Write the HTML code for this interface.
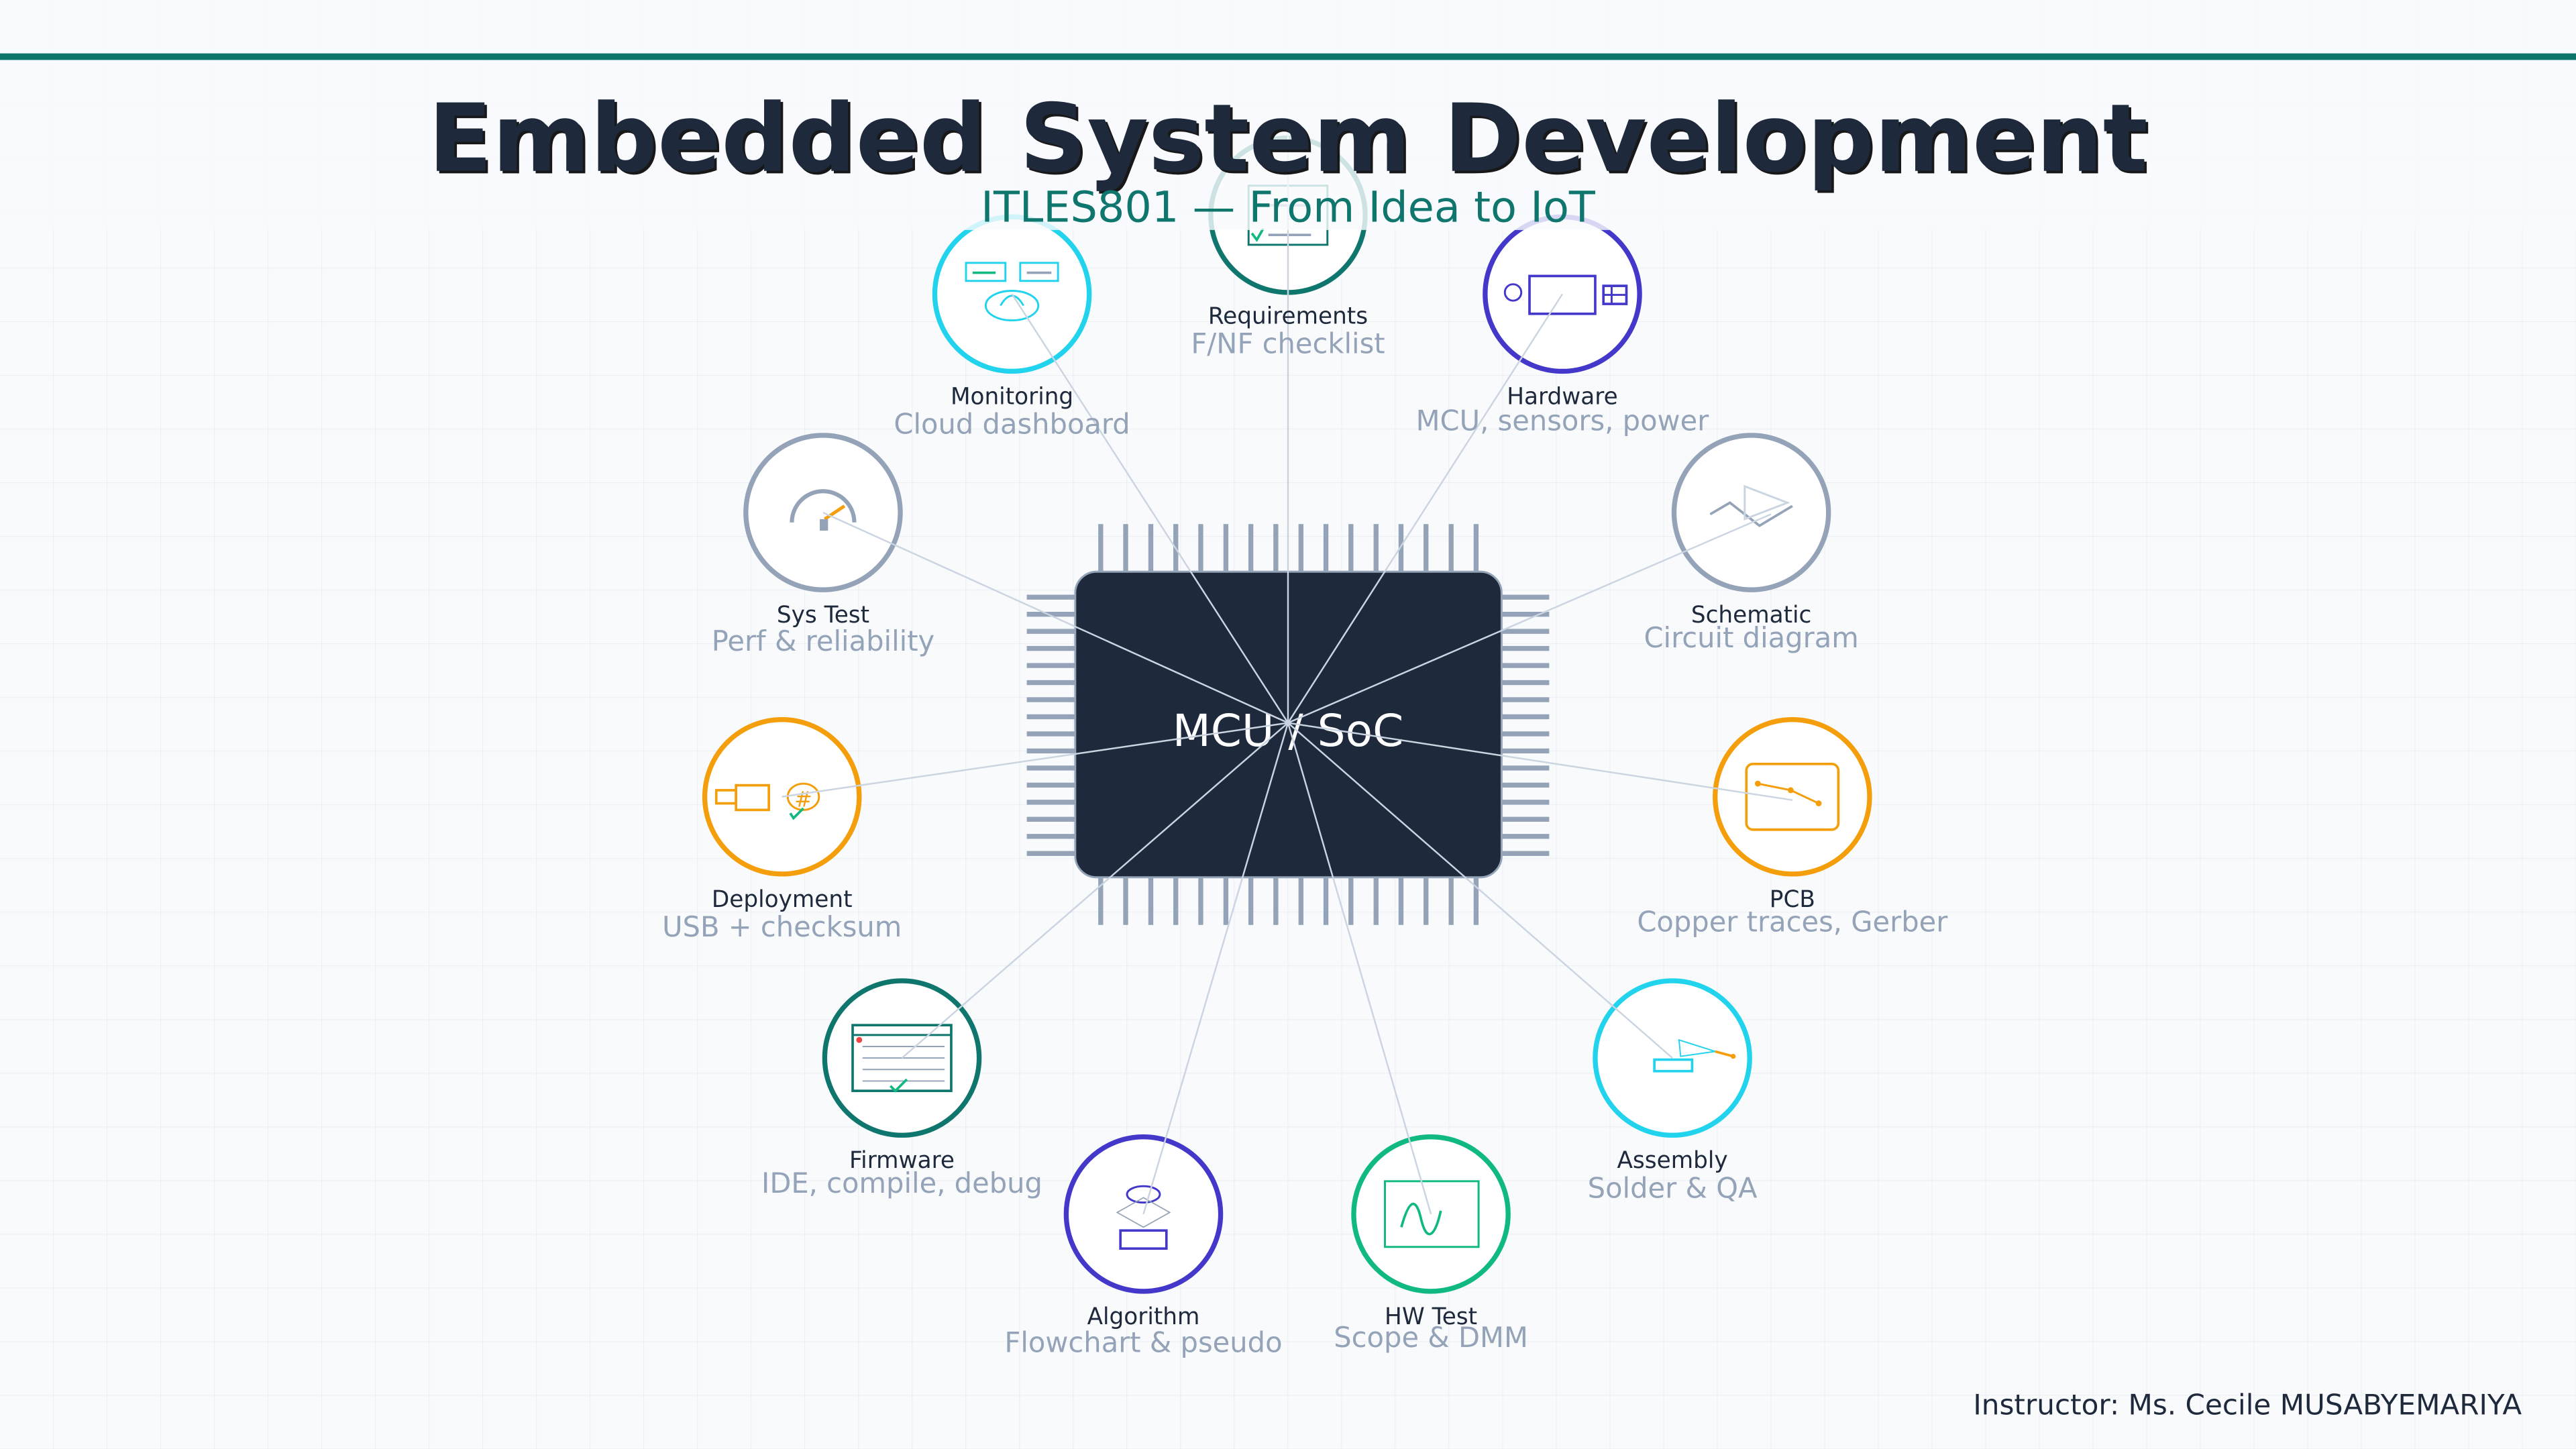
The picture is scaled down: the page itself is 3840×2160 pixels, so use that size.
<!DOCTYPE html>
<html><head><meta charset="utf-8"><style>
html,body{margin:0;padding:0;background:#f8fafc;}
svg{display:block;}
text{font-family:"DejaVu Sans","Liberation Sans",sans-serif;}
</style></head><body>
<svg width="3840" height="2160" viewBox="0 0 1568 882" xmlns="http://www.w3.org/2000/svg">
<defs>
<pattern id="g" width="32.67" height="32.67" patternUnits="userSpaceOnUse">
<path d="M32.67 0V32.67M0 32.67H32.67" fill="none" stroke="#e2e8f0" stroke-width="0.5"/>
</pattern>
</defs>
<rect width="1568" height="882" fill="#f8fafc"/>
<rect width="1568" height="882" fill="url(#g)"/>

<!-- chip pins -->
<g fill="#94a3b8">
<g id="tp">
<rect x="668.5" y="319" width="3" height="29"/><rect x="683.7" y="319" width="3" height="29"/><rect x="699" y="319" width="3" height="29"/><rect x="714.2" y="319" width="3" height="29"/>
<rect x="729.4" y="319" width="3" height="29"/><rect x="744.7" y="319" width="3" height="29"/><rect x="759.9" y="319" width="3" height="29"/><rect x="775.1" y="319" width="3" height="29"/>
<rect x="790.4" y="319" width="3" height="29"/><rect x="805.6" y="319" width="3" height="29"/><rect x="820.8" y="319" width="3" height="29"/><rect x="836.1" y="319" width="3" height="29"/>
<rect x="851.3" y="319" width="3" height="29"/><rect x="866.5" y="319" width="3" height="29"/><rect x="881.8" y="319" width="3" height="29"/><rect x="897" y="319" width="3" height="29"/>
</g>
<use href="#tp" y="215"/>
<g id="lp">
<rect x="625" y="362" width="29" height="3"/><rect x="625" y="372.4" width="29" height="3"/><rect x="625" y="382.8" width="29" height="3"/><rect x="625" y="393.2" width="29" height="3"/>
<rect x="625" y="403.6" width="29" height="3"/><rect x="625" y="414" width="29" height="3"/><rect x="625" y="424.4" width="29" height="3"/><rect x="625" y="434.8" width="29" height="3"/>
<rect x="625" y="445.2" width="29" height="3"/><rect x="625" y="455.6" width="29" height="3"/><rect x="625" y="466" width="29" height="3"/><rect x="625" y="476.4" width="29" height="3"/>
<rect x="625" y="486.8" width="29" height="3"/><rect x="625" y="497.2" width="29" height="3"/><rect x="625" y="507.6" width="29" height="3"/><rect x="625" y="518" width="29" height="3"/>
</g>
<use href="#lp" x="289"/>
</g>
<rect x="654.5" y="348" width="259.5" height="186" rx="13" fill="#1e293b" stroke="#94a3b8" stroke-width="1.2"/>
<text x="784" y="454" font-size="27" fill="#fff" text-anchor="middle">MCU / SoC</text>

<!-- nodes -->
<g fill="#fff" stroke-width="3">
<circle cx="784" cy="131" r="47" stroke="#0f766e"/>
<circle cx="951" cy="179" r="47" stroke="#4338ca"/>
<circle cx="1066" cy="312" r="47" stroke="#94a3b8"/>
<circle cx="1091" cy="485" r="47" stroke="#f59e0b"/>
<circle cx="1018" cy="644" r="47" stroke="#22d3ee"/>
<circle cx="871" cy="739" r="47" stroke="#10b981"/>
<circle cx="696" cy="739" r="47" stroke="#4338ca"/>
<circle cx="549" cy="644" r="47" stroke="#0f766e"/>
<circle cx="476" cy="485" r="47" stroke="#f59e0b"/>
<circle cx="501" cy="312" r="47" stroke="#94a3b8"/>
<circle cx="616" cy="179" r="47" stroke="#22d3ee"/>
</g>

<!-- icons -->
<g fill="none" stroke-width="1.2">
<rect x="760" y="113" width="48" height="36" stroke="#0f766e"/>
<line x1="772" y1="143" x2="798" y2="143" stroke="#94a3b8" stroke-width="1.5"/>
<line x1="772" y1="125" x2="798" y2="125" stroke="#94a3b8" stroke-width="1.5"/>
<path d="M762 142l3 4 4-7" stroke="#10b981" stroke-width="1.5"/>
<rect x="588" y="160" width="24" height="11" stroke="#22d3ee"/>
<rect x="621" y="160" width="23" height="11" stroke="#22d3ee"/>
<line x1="592" y1="166" x2="606" y2="166" stroke="#10b981" stroke-width="1.5"/>
<line x1="625" y1="166" x2="640" y2="166" stroke="#94a3b8" stroke-width="1.5"/>
<ellipse cx="616" cy="186" rx="16" ry="9" stroke="#22d3ee"/>
<path d="M609 186q7-12 14 0" stroke="#22d3ee"/>
<circle cx="921" cy="178" r="5" stroke="#4338ca"/>
<rect x="931" y="168" width="40" height="23" stroke="#4338ca" stroke-width="1.5"/>
<rect x="976" y="174" width="14" height="11" stroke="#4338ca" stroke-width="1.5"/>
<line x1="976" y1="179.5" x2="990" y2="179.5" stroke="#4338ca"/>
<line x1="981" y1="174" x2="981" y2="185" stroke="#4338ca"/>
<path d="M1041 313l12-7 18 14 20-12" stroke="#94a3b8" stroke-width="1.5"/>
<path d="M1062 296v20l26-10z" stroke="#cbd5e1"/>
<rect x="1063" y="465" width="56" height="40" rx="4" stroke="#f59e0b" stroke-width="1.5"/>
<path d="M1070 477l20 4 17 8" stroke="#f59e0b"/>
<circle cx="1070" cy="477" r="1.8" fill="#f59e0b" stroke="none"/>
<circle cx="1090" cy="481" r="1.8" fill="#f59e0b" stroke="none"/>
<circle cx="1107" cy="489" r="1.8" fill="#f59e0b" stroke="none"/>
<rect x="1007" y="645" width="23" height="7" stroke="#22d3ee" stroke-width="1.5"/>
<path d="M1022 633l1 10 21-3z" stroke="#22d3ee" stroke-width="0.8"/>
<line x1="1044" y1="640" x2="1055" y2="643" stroke="#f59e0b" stroke-width="1.5"/>
<circle cx="1055" cy="643" r="1.5" fill="#f59e0b" stroke="none"/>
<rect x="843" y="719" width="57" height="40" stroke="#10b981"/>
<path d="M853 747c5-18 9-18 12-5s8 13 12-5" stroke="#10b981" stroke-width="1.5"/>
<ellipse cx="696" cy="727" rx="10" ry="5" stroke="#4338ca"/>
<path d="M696 729l16 9-16 9-16-9z" stroke="#94a3b8" stroke-width="0.7"/>
<rect x="682" y="749" width="28" height="11" stroke="#4338ca" stroke-width="1.5"/>
<rect x="519" y="624" width="60" height="40" stroke="#0f766e" stroke-width="1.5"/>
<line x1="519" y1="630" x2="579" y2="630" stroke="#0f766e"/>
<g stroke="#94a3b8" stroke-width="0.8"><line x1="525" y1="637" x2="575" y2="637"/><line x1="525" y1="644" x2="575" y2="644"/><line x1="525" y1="651" x2="575" y2="651"/><line x1="525" y1="658" x2="575" y2="658"/></g>
<circle cx="523" cy="633" r="1.8" fill="#ef4444" stroke="none"/>
<path d="M542 661l3 3 7-7" stroke="#10b981" stroke-width="1.5"/>
<rect x="436" y="481" width="12" height="8" stroke="#f59e0b" stroke-width="1.5"/>
<rect x="448" y="478" width="20" height="15" stroke="#f59e0b" stroke-width="1.5"/>
<ellipse cx="489" cy="485" rx="9.5" ry="8" stroke="#f59e0b"/>
<text x="489" y="491" font-size="13" fill="#f59e0b" stroke="none" text-anchor="middle">#</text>
<path d="M481 495l2 3 6-6" stroke="#10b981" stroke-width="1.5"/>
<path d="M482 318a19 19 0 0 1 38 0" stroke="#94a3b8" stroke-width="2.5"/>
<line x1="502" y1="316" x2="514" y2="308" stroke="#f59e0b" stroke-width="2"/>
<rect x="499" y="316" width="5" height="7" fill="#94a3b8" stroke="none"/>
</g>

<!-- connectors -->
<g stroke="#cbd5e1" stroke-width="1">
<line x1="784" y1="440" x2="784" y2="80"/>
<line x1="784" y1="440" x2="951" y2="179"/>
<line x1="784" y1="440" x2="1078" y2="313"/>
<line x1="784" y1="440" x2="1091" y2="487"/>
<line x1="784" y1="440" x2="1018" y2="644"/>
<line x1="784" y1="440" x2="871" y2="739"/>
<line x1="784" y1="440" x2="696" y2="739"/>
<line x1="784" y1="440" x2="549" y2="644"/>
<line x1="784" y1="440" x2="476" y2="485"/>
<line x1="784" y1="440" x2="501" y2="312"/>
<line x1="784" y1="440" x2="616" y2="179"/>
</g>

<!-- labels -->
<g text-anchor="middle">
<g font-size="14" fill="#1e293b">
<text x="784" y="197">Requirements</text>
<text x="951" y="246">Hardware</text>
<text x="1066" y="379">Schematic</text>
<text x="1091" y="552">PCB</text>
<text x="1018" y="711">Assembly</text>
<text x="871" y="806">HW Test</text>
<text x="696" y="806">Algorithm</text>
<text x="549" y="711">Firmware</text>
<text x="476" y="552">Deployment</text>
<text x="501" y="379">Sys Test</text>
<text x="616" y="246">Monitoring</text>
</g>
<g font-size="17" fill="#94a3b8">
<text x="784" y="215">F/NF checklist</text>
<text x="951" y="262">MCU, sensors, power</text>
<text x="1066" y="394">Circuit diagram</text>
<text x="1091" y="567">Copper traces, Gerber</text>
<text x="1018" y="729">Solder &amp; QA</text>
<text x="871" y="820">Scope &amp; DMM</text>
<text x="696" y="823">Flowchart &amp; pseudo</text>
<text x="549" y="726">IDE, compile, debug</text>
<text x="476" y="570">USB + checksum</text>
<text x="501" y="396">Perf &amp; reliability</text>
<text x="616" y="264">Cloud dashboard</text>
</g>
</g>

<!-- header -->
<rect x="0" y="0" width="1568" height="140" fill="#f8fafc" fill-opacity="0.82"/>
<rect x="0" y="32.5" width="1568" height="4" fill="#0f766e"/>
<text x="785.5" y="105.5" font-size="57.2" font-weight="bold" fill="#000" text-anchor="middle" opacity="0.9">Embedded System Development</text>
<text x="784" y="104" font-size="57.2" font-weight="bold" fill="#1e293b" text-anchor="middle">Embedded System Development</text>
<text x="784" y="135" font-size="26" fill="#0f766e" text-anchor="middle">ITLES801 — From Idea to IoT</text>

<text x="1535" y="861" font-size="17.2" fill="#1e293b" text-anchor="end">Instructor: Ms. Cecile MUSABYEMARIYA</text>
</svg>
</body></html>
